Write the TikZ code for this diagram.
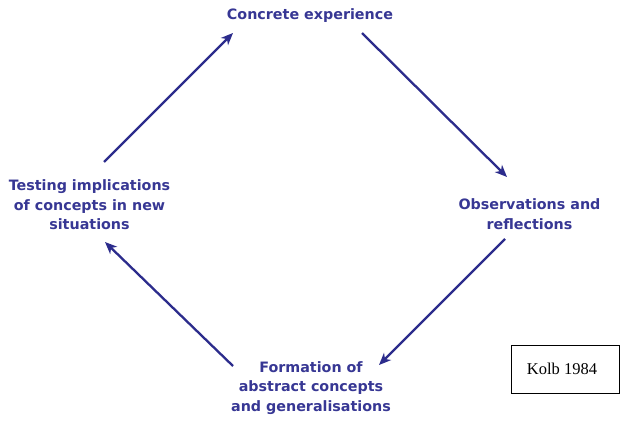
\documentclass[tikz,border=0pt]{standalone}
\usepackage{fontspec}
\setmainfont{DejaVu Sans}
\newfontfamily\kolbfont{Liberation Serif}
\usetikzlibrary{arrows.meta}
\definecolor{labelblue}{RGB}{55,55,148}
\definecolor{arrowblue}{RGB}{44,44,140}
\tikzset{
  stagelabel/.style={font=\bfseries\fontsize{14.3}{19.5}\selectfont, text=labelblue, align=center, inner sep=0pt},
  cyclearrow/.style={draw=arrowblue, line width=2.3pt, -{Stealth[length=12pt,width=10pt,inset=3.5pt]}},
  refbox/.style={draw=black, line width=1pt, minimum width=108pt, minimum height=48pt, inner sep=0pt, font=\kolbfont\fontsize{16.5}{18}\selectfont}
}
\begin{document}
\begin{tikzpicture}[x=1pt,y=-1pt]
\useasboundingbox (0,0) rectangle (620,425);
\fill[white] (0,0) rectangle (620,425);
\node[stagelabel] (concrete) at (310,16) {Concrete experience};
\node[stagelabel] (obs) at (529.5,214) {Observations and\\reflections};
\node[stagelabel] (form) at (311,388) {Formation of\\abstract concepts\\and generalisations};
\node[stagelabel] (test) at (89.5,205) {Testing implications\\of concepts in new\\situations};
\node[refbox] (kolb) at (565,369) {\hspace*{-6pt}Kolb 1984};
\draw[cyclearrow] ([shift={(14.5,-43)}]test.center) -- ([shift={(-77,17)}]concrete.center);
\draw[cyclearrow] ([shift={(52,17)}]concrete.center) -- ([shift={(-22.5,-37)}]obs.center);
\draw[cyclearrow] ([shift={(-24.5,25)}]obs.center) -- ([shift={(68,-23)}]form.center);
\draw[cyclearrow] ([shift={(-78,-22)}]form.center) -- ([shift={(15.5,37)}]test.center);
\end{tikzpicture}
\end{document}
